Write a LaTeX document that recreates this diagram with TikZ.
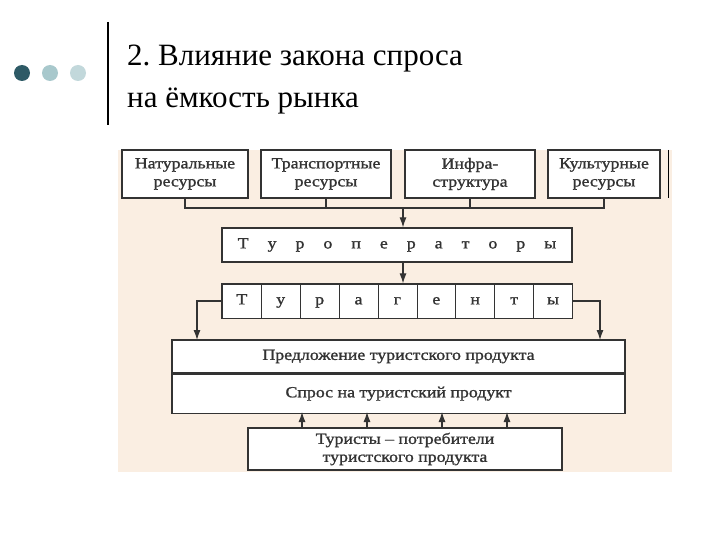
\documentclass[tikz,border=0pt]{standalone}
\usepackage{fontspec}
\setmainfont{Liberation Serif}
\newfontfamily\dfont[FakeStretch=1.15,FakeBold=1.2]{Liberation Serif}
\usetikzlibrary{arrows.meta}
\definecolor{beige}{HTML}{FAEEE2}
\definecolor{dteal}{HTML}{2E5A66}
\definecolor{lteal}{HTML}{A8C8CC}
\frenchspacing
\begin{document}
\begin{tikzpicture}[x=1pt,y=-1pt,
 bx/.style={draw=black!80,line width=1.2pt,fill=white,inner sep=0pt,font=\dfont\fontsize{15.5}{18}\selectfont,align=center,text=black!80},
 cell/.style={draw=black!80,line width=0.8pt,fill=white,minimum height=34pt,minimum width=38.9pt,inner sep=0pt,text height=8pt,text depth=2pt,font=\dfont\fontsize{15.5}{18}\selectfont,text=black!80},
 ln/.style={line width=1.1pt,draw=black!80},
 ar/.style={ln,-{Latex[length=10pt,width=7pt]}}]
\useasboundingbox (0,0) rectangle (720,540);
\fill[white] (0,0) rectangle (720,540);
% title
\fill[dteal] (22,73) circle (8);
\fill[lteal] (50,73) circle (8);
\fill[lteal!70] (78,73) circle (8);
\draw[line width=2pt] (108,22) -- (108,125);
\node[anchor=west,font=\fontsize{31}{42}\selectfont,align=left,inner sep=0pt] (title) at (127,80) {2. Влияние закона спроса\\на ёмкость рынка};
% background
\fill[beige] (118,150) rectangle (672,472);
\draw[line width=1pt] (668,150) -- (668,198);
% top boxes
\node[bx,minimum width=126pt,minimum height=48pt] (r1) at (185,174) {Натуральные\\ресурсы};
\node[bx,minimum width=130pt,minimum height=48pt] (r2) at (326,174) {Транспортные\\ресурсы};
\node[bx,minimum width=130pt,minimum height=48pt] (r3) at (470,174) {Инфра-\\структура};
\node[bx,minimum width=112pt,minimum height=48pt] (r4) at (604,174) {Культурные\\ресурсы};
\coordinate (b1) at (185,208); \coordinate (b4) at (604,208); \coordinate (bm) at (403,208);
\draw[ln] (r1.south) -- (b1) -- (b4) -- (r4.south);
\draw[ln] (r2.south) -- (r2.south |- b1);
\draw[ln] (r3.south) -- (r3.south |- b1);
% tour operators
\node[bx,minimum width=350pt,minimum height=34pt] (op) at (397,245) {Т\hspace{19pt}у\hspace{19pt}р\hspace{19pt}о\hspace{19pt}п\hspace{19pt}е\hspace{19pt}р\hspace{19pt}а\hspace{19pt}т\hspace{19pt}о\hspace{19pt}р\hspace{19pt}ы};
\draw[ar] (bm) -- (bm |- op.north);
% agents
\node[bx,minimum width=350pt,minimum height=34pt] (ag) at (397,301) {};
\foreach \l [count=\i from 0] in {Т,у,р,а,г,е,н,т,ы}
  \node[cell,anchor=north west] (c\i) at ({222+\i*38.9},284) {\l};
\draw[ln] (ag.north west) rectangle (ag.south east);
\draw[ar] (op.south -| bm) -- (ag.north -| bm);
% supply / demand
\node[bx,minimum width=453pt,minimum height=33pt] (sup) at (398.5,356.5) {Предложение туристского продукта};
\node[bx,minimum width=453pt,minimum height=39pt,anchor=north] (dem) at (sup.south) {Спрос на туристский продукт};
\draw[ar] (ag.west) -- (197,301) -- (197,340);
\draw[ar] (ag.east) -- (600,301) -- (600,340);
% tourists
\node[bx,minimum width=314pt,minimum height=42pt] (tr) at (405,449) {Туристы – потребители\\туристского продукта};
\foreach \x in {302,367,442,507}
  \draw[ar] (\x,428) -- (\x,412);
\end{tikzpicture}
\end{document}
